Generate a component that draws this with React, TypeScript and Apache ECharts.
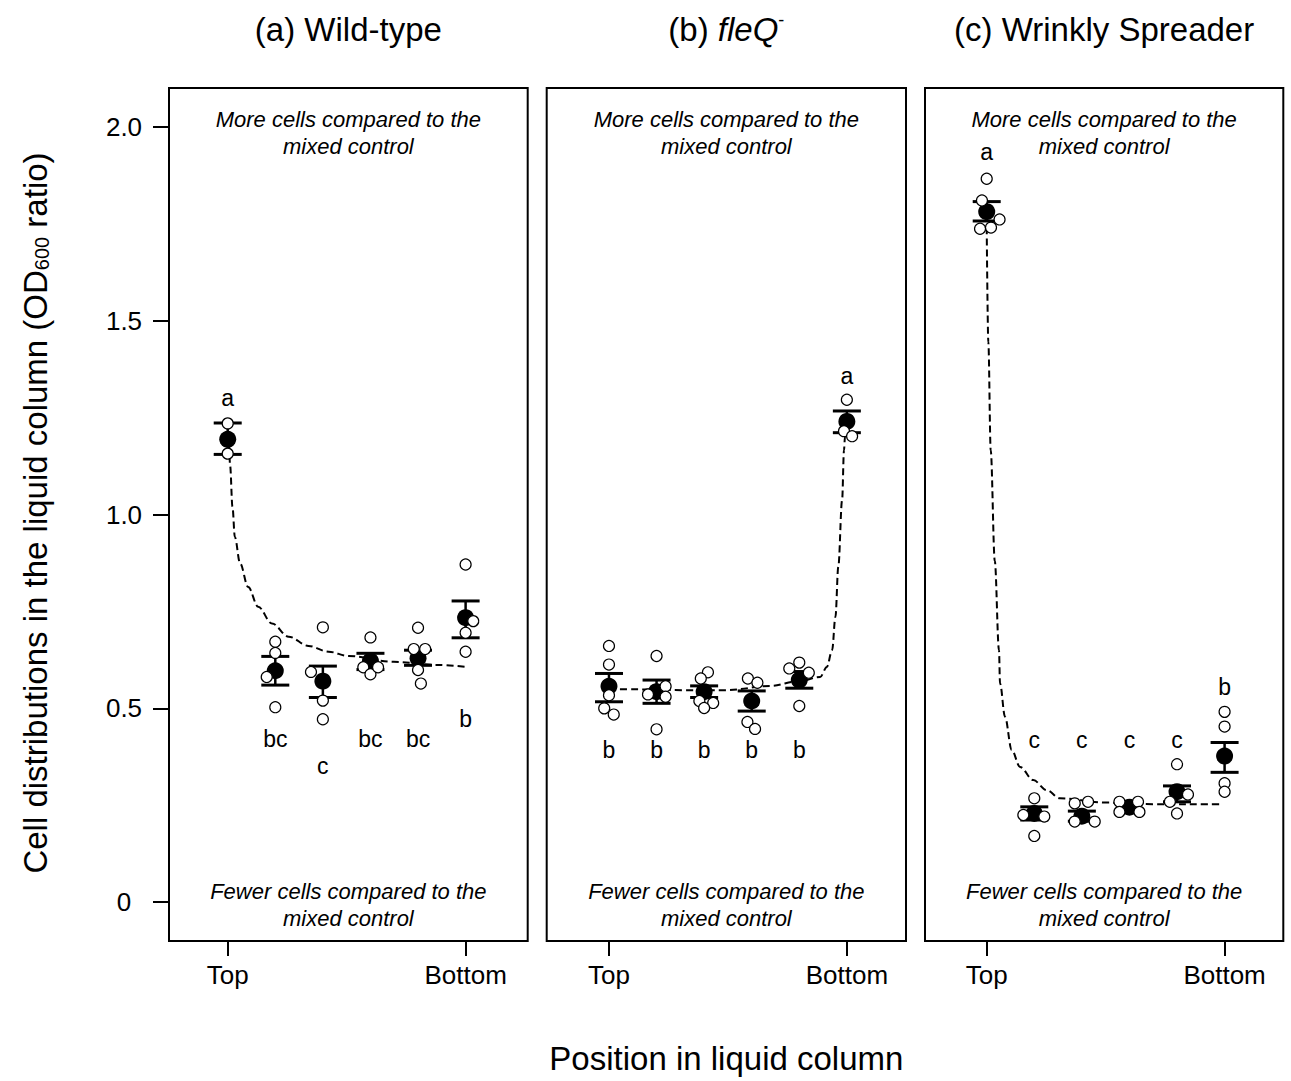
import React, { useEffect, useRef } from "react";
import * as echarts from "echarts";

// ---------- data ----------
const POSITIONS = [1, 2, 3, 4, 5, 6];
const X_TICK_VALUES = [1, 6];
const X_TICK_LABELS = ["Top", "Bottom"];
const Y_TICKS = [0, 0.5, 1, 1.5, 2];

// (a) Wild-type
const A_MEAN = [1.194, 0.597, 0.57, 0.622, 0.629, 0.734];
const A_LO = [1.155, 0.56, 0.528, 0.6, 0.611, 0.682];
const A_HI = [1.236, 0.634, 0.609, 0.642, 0.65, 0.777];
const A_LETTERS = ["a", "bc", "c", "bc", "bc", "b"];
const A_LETTER_Y = [1.3, 0.421, 0.351, 0.421, 0.421, 0.472];
const A_POINTS = [
  [[0, 1.235], [0, 1.157]],
  [[0, 0.672], [0, 0.643], [-0.18, 0.581], [0, 0.503]],
  [[0, 0.709], [-0.25, 0.594], [0, 0.52], [0, 0.472]],
  [[0, 0.683], [-0.15, 0.606], [0, 0.588], [0.16, 0.606]],
  [[0, 0.708], [-0.09, 0.653], [0.15, 0.653], [0, 0.599], [0.06, 0.564]],
  [[0, 0.871], [0.16, 0.725], [0, 0.695], [0, 0.646]],
];
const A_CURVE_X = [1.03, 1.05, 1.1, 1.15, 1.26, 1.43, 1.64, 1.93, 2.28, 2.7, 3.12, 3.54, 4.49, 5.4, 6];
const A_CURVE_Y = [1.18, 1.127, 1.02, 0.942, 0.874, 0.813, 0.762, 0.719, 0.685, 0.661, 0.646, 0.635, 0.62, 0.612, 0.607];

// (b) fleQ-
const B_MEAN = [0.557, 0.543, 0.543, 0.519, 0.573, 1.24];
const B_LO = [0.517, 0.513, 0.528, 0.493, 0.552, 1.211];
const B_HI = [0.59, 0.573, 0.558, 0.545, 0.595, 1.267];
const B_LETTERS = ["b", "b", "b", "b", "b", "a"];
const B_LETTER_Y = [0.392, 0.392, 0.392, 0.392, 0.392, 1.356];
const B_POINTS = [
  [[0, 0.661], [0, 0.613], [0, 0.534], [-0.1, 0.5], [0.1, 0.484]],
  [[0, 0.635], [0.19, 0.557], [-0.18, 0.536], [0.19, 0.53], [0, 0.446]],
  [[0.08, 0.593], [-0.07, 0.577], [-0.1, 0.519], [0.19, 0.514], [0, 0.501]],
  [[-0.08, 0.577], [0.12, 0.566], [-0.09, 0.465], [0.07, 0.447]],
  [[0, 0.618], [-0.21, 0.603], [0.2, 0.592], [0, 0.506]],
  [[0, 1.296], [-0.06, 1.215], [0.11, 1.202]],
];
const B_CURVE_X = [1, 1.55, 2.56, 3.48, 4.39, 5, 5.44, 5.58, 5.69, 5.76, 5.82, 5.9, 5.94, 5.96, 6];
const B_CURVE_Y = [0.55, 0.549, 0.547, 0.547, 0.558, 0.57, 0.581, 0.607, 0.65, 0.736, 0.865, 1.037, 1.166, 1.2, 1.24];

// (c) Wrinkly Spreader
const C_MEAN = [1.781, 0.229, 0.222, 0.245, 0.285, 0.377];
const C_LO = [1.757, 0.212, 0.209, 0.232, 0.259, 0.335];
const C_HI = [1.807, 0.246, 0.235, 0.258, 0.3, 0.412];
const C_LETTERS = ["a", "c", "c", "c", "c", "b"];
const C_LETTER_Y = [1.934, 0.418, 0.418, 0.418, 0.418, 0.556];
const C_POINTS = [
  [[0, 1.866], [-0.1, 1.81], [0.27, 1.761], [-0.14, 1.737], [0.09, 1.74]],
  [[0, 0.268], [-0.23, 0.225], [0.21, 0.221], [0, 0.171]],
  [[-0.15, 0.255], [0.13, 0.259], [-0.15, 0.208], [0.27, 0.208]],
  [[-0.21, 0.259], [0.18, 0.259], [-0.21, 0.233], [0.21, 0.233]],
  [[0, 0.356], [0.23, 0.278], [-0.15, 0.259], [0, 0.229]],
  [[0, 0.491], [0, 0.453], [0, 0.307], [0, 0.285]],
];
const C_CURVE_X = [1, 1.034, 1.084, 1.17, 1.258, 1.28, 1.385, 1.525, 1.7, 1.98, 2.26, 2.54, 3.49, 4.5, 5.7, 5.94];
const C_CURVE_Y = [1.74, 1.445, 1.166, 0.88, 0.65, 0.564, 0.478, 0.393, 0.349, 0.315, 0.289, 0.268, 0.257, 0.253, 0.253, 0.253];

const PANELS = [
  { mean: A_MEAN, lo: A_LO, hi: A_HI, letters: A_LETTERS, letterY: A_LETTER_Y, points: A_POINTS, cx: A_CURVE_X, cy: A_CURVE_Y },
  { mean: B_MEAN, lo: B_LO, hi: B_HI, letters: B_LETTERS, letterY: B_LETTER_Y, points: B_POINTS, cx: B_CURVE_X, cy: B_CURVE_Y },
  { mean: C_MEAN, lo: C_LO, hi: C_HI, letters: C_LETTERS, letterY: C_LETTER_Y, points: C_POINTS, cx: C_CURVE_X, cy: C_CURVE_Y },
];

// ---------- layout ----------
const FONT = "'Liberation Sans', Arial, Helvetica, sans-serif";
const GRID_LEFT = [169, 546.7, 925];
const GRID_WIDTH = [358.7, 359.3, 358.3];
const GRID_TOP = 88;
const GRID_HEIGHT = 853;
const X_MIN = [-0.234, -0.309, -0.297];
const X_MAX = [7.305, 7.243, 7.234];
const Y_MIN = -0.1;
const Y_MAX = 2.1;

function buildOption() {
  const grids: any[] = [];
  const xAxes: any[] = [];
  const yAxes: any[] = [];
  const series: any[] = [];
  const graphics: any[] = [];

  PANELS.forEach((p, i) => {
    grids.push({
      left: GRID_LEFT[i],
      top: GRID_TOP,
      width: GRID_WIDTH[i],
      height: GRID_HEIGHT,
      show: true,
      borderColor: "#000",
      borderWidth: 2,
      backgroundColor: "transparent",
      containLabel: false,
    });
    xAxes.push({
      type: "value",
      gridIndex: i,
      position: "bottom",
      min: X_MIN[i],
      max: X_MAX[i],
      axisLine: { show: false, onZero: false },
      splitLine: { show: false },
      axisTick: {
        show: true,
        customValues: X_TICK_VALUES,
        length: 15,
        inside: false,
        lineStyle: { color: "#000", width: 2 },
      },
      axisLabel: {
        show: true,
        customValues: X_TICK_VALUES,
        formatter: (v: number) => X_TICK_LABELS[X_TICK_VALUES.indexOf(Math.round(v))] ?? "",
        fontSize: 26,
        fontFamily: FONT,
        color: "#000",
        margin: 21,
      },
    });
    yAxes.push({
      type: "value",
      gridIndex: i,
      position: "left",
      min: Y_MIN,
      max: Y_MAX,
      axisLine: { show: false, onZero: false },
      splitLine: { show: false },
      axisTick: {
        show: i === 0,
        customValues: Y_TICKS,
        length: 16,
        lineStyle: { color: "#000", width: 2 },
      },
      axisLabel: {
        show: i === 0,
        customValues: Y_TICKS,
        formatter: (v: number) => (Math.abs(v) < 1e-9 ? "0" : v.toFixed(1)),
        fontSize: 26,
        fontFamily: FONT,
        color: "#000",
        align: "center",
        margin: 45,
      },
    });

    // fitted dashed curve
    series.push({
      type: "line",
      xAxisIndex: i,
      yAxisIndex: i,
      data: p.cx.map((x, k) => [x, p.cy[k]]),
      showSymbol: false,
      symbol: "none",
      smooth: 0.35,
      smoothMonotone: "x",
      lineStyle: { color: "#000", width: 2, type: [7, 4] },
      z: 1,
      silent: true,
    });

    // error bars
    series.push({
      type: "custom",
      xAxisIndex: i,
      yAxisIndex: i,
      data: POSITIONS.map((x, k) => [x, p.lo[k], p.hi[k]]),
      encode: { x: 0, y: [1, 2] },
      renderItem: (params: any, api: any) => {
        const x = api.value(0);
        const pLo = api.coord([x, api.value(1)]);
        const pHi = api.coord([x, api.value(2)]);
        const hw = 14;
        return {
          type: "group",
          children: [
            { type: "line", shape: { x1: pLo[0], y1: pLo[1], x2: pHi[0], y2: pHi[1] }, style: { stroke: "#000", lineWidth: 2.5 } },
            { type: "line", shape: { x1: pLo[0] - hw, y1: pLo[1], x2: pLo[0] + hw, y2: pLo[1] }, style: { stroke: "#000", lineWidth: 3 } },
            { type: "line", shape: { x1: pHi[0] - hw, y1: pHi[1], x2: pHi[0] + hw, y2: pHi[1] }, style: { stroke: "#000", lineWidth: 3 } },
          ],
        };
      },
      z: 2,
      silent: true,
    });

    // means
    series.push({
      type: "scatter",
      xAxisIndex: i,
      yAxisIndex: i,
      data: POSITIONS.map((x, k) => [x, p.mean[k]]),
      symbol: "circle",
      symbolSize: 17,
      itemStyle: { color: "#000", opacity: 1 },
      z: 3,
      silent: true,
    });

    // individual replicates
    const pts: number[][] = [];
    p.points.forEach((grp, k) => grp.forEach(([j, y]) => pts.push([POSITIONS[k] + j, y])));
    series.push({
      type: "scatter",
      xAxisIndex: i,
      yAxisIndex: i,
      data: pts,
      symbol: "circle",
      symbolSize: 11,
      itemStyle: { color: "#fff", borderColor: "#000", borderWidth: 1.2, opacity: 1 },
      z: 4,
      silent: true,
    });

    // significance letters
    series.push({
      type: "scatter",
      xAxisIndex: i,
      yAxisIndex: i,
      data: POSITIONS.map((x, k) => ({ value: [x, p.letterY[k]], name: p.letters[k] })),
      symbol: "circle",
      symbolSize: 0,
      itemStyle: { color: "#000", opacity: 1 },
      label: {
        show: true,
        position: "inside",
        formatter: (d: any) => d.name,
        fontSize: 23,
        fontFamily: FONT,
        color: "#000",
        textBorderWidth: 0,
        opacity: 1,
      },
      z: 5,
      silent: true,
    });

    const cxp = GRID_LEFT[i] + GRID_WIDTH[i] / 2;
    graphics.push({
      type: "text",
      x: cxp,
      y: 132.5,
      style: {
        text: "More cells compared to the\nmixed control",
        fontSize: 22,
        fontStyle: "italic",
        fontFamily: FONT,
        fill: "#000",
        align: "center",
        verticalAlign: "middle",
        lineHeight: 27,
      },
    });
    graphics.push({
      type: "text",
      x: cxp,
      y: 904.5,
      style: {
        text: "Fewer cells compared to the\nmixed control",
        fontSize: 22,
        fontStyle: "italic",
        fontFamily: FONT,
        fill: "#000",
        align: "center",
        verticalAlign: "middle",
        lineHeight: 27,
      },
    });
  });

  // panel titles
  const titleY = 29;
  graphics.push({
    type: "text",
    x: GRID_LEFT[0] + GRID_WIDTH[0] / 2,
    y: titleY,
    style: { text: "(a) Wild-type", fontSize: 33, fontFamily: FONT, fill: "#000", align: "center", verticalAlign: "middle" },
  });
  graphics.push({
    type: "text",
    x: GRID_LEFT[1] + GRID_WIDTH[1] / 2,
    y: titleY,
    style: {
      text: "{n|(b) }{i|fleQ}{s|-}",
      align: "center",
      verticalAlign: "middle",
      rich: {
        n: { fontSize: 33, fontFamily: FONT, fill: "#000", lineHeight: 40 },
        i: { fontSize: 33, fontFamily: FONT, fontStyle: "italic", fill: "#000", lineHeight: 40 },
        s: { fontSize: 18, fontFamily: FONT, fill: "#000", lineHeight: 40, verticalAlign: "top", padding: [2, 0, 0, 0] },
      },
    },
  });
  graphics.push({
    type: "text",
    x: GRID_LEFT[2] + GRID_WIDTH[2] / 2,
    y: titleY,
    style: { text: "(c) Wrinkly Spreader", fontSize: 33, fontFamily: FONT, fill: "#000", align: "center", verticalAlign: "middle" },
  });

  // axis titles
  graphics.push({
    type: "text",
    x: GRID_LEFT[1] + GRID_WIDTH[1] / 2,
    y: 1058,
    style: { text: "Position in liquid column", fontSize: 33, fontFamily: FONT, fill: "#000", align: "center", verticalAlign: "middle" },
  });
  graphics.push({
    type: "text",
    x: 35,
    y: 513,
    rotation: Math.PI / 2,
    style: {
      text: "{n|Cell distributions in the liquid column (OD}{sub|600}{n| ratio)}",
      align: "center",
      verticalAlign: "middle",
      rich: {
        n: { fontSize: 33, fontFamily: FONT, fill: "#000", lineHeight: 40 },
        sub: { fontSize: 20, fontFamily: FONT, fill: "#000", lineHeight: 40, verticalAlign: "bottom", padding: [0, 0, 3, 0] },
      },
    },
  });

  return {
    animation: false,
    backgroundColor: "#fff",
    grid: grids,
    xAxis: xAxes,
    yAxis: yAxes,
    series,
    graphic: graphics,
  };
}

export default function App() {
  const ref = useRef<HTMLDivElement>(null);
  useEffect(() => {
    document.body.style.margin = "0";
    if (!ref.current) return;
    const chart = echarts.init(ref.current, undefined, { renderer: "svg" });
    chart.setOption(buildOption() as any);
    return () => chart.dispose();
  }, []);
  return <div ref={ref} style={{ width: 1291, height: 1081 }} />;
}
